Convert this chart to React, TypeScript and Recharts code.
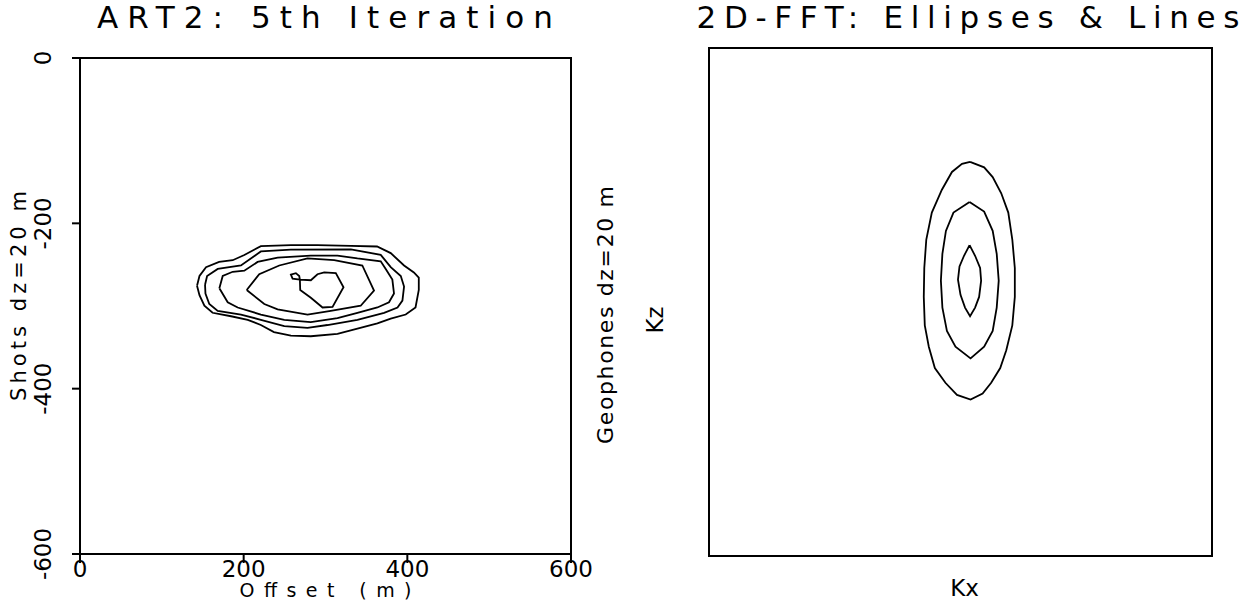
import React from 'react';
import { LineChart, Line, XAxis, YAxis, ReferenceArea, Label } from 'recharts';

// ---------- Left panel: ART2 5th iteration (offset m, depth m) ----------
const offsetTicks = [0, 200, 400, 600];
const shotTicks = [0, -200, -400, -600];

const art2Level1 = [
  { x: 143, y: -275.6 }, { x: 146, y: -263.7 }, { x: 154, y: -253 }, { x: 170, y: -246.7 },
  { x: 186.6, y: -244.6 }, { x: 200.8, y: -238.3 }, { x: 221, y: -227.6 }, { x: 257.7, y: -226.4 },
  { x: 290, y: -226.4 }, { x: 331, y: -227.2 }, { x: 363, y: -228 }, { x: 379.7, y: -236 },
  { x: 396, y: -251 }, { x: 408, y: -259.4 }, { x: 414, y: -265.8 }, { x: 414, y: -280.6 },
  { x: 410, y: -301.8 }, { x: 398, y: -310.3 }, { x: 379.7, y: -315.4 }, { x: 363.4, y: -321 },
  { x: 339, y: -327.3 }, { x: 314.6, y: -333.6 }, { x: 282, y: -336.6 }, { x: 257.7, y: -335.8 },
  { x: 237, y: -331.5 }, { x: 221, y: -323 }, { x: 205, y: -316.7 }, { x: 184.6, y: -312.4 },
  { x: 162, y: -308.2 }, { x: 152, y: -299.7 }, { x: 146, y: -287 }, { x: 143, y: -275.6 },
];

const art2Level2 = [
  { x: 152.8, y: -274.3 }, { x: 155.3, y: -263.7 }, { x: 168.3, y: -255.2 }, { x: 196.7, y: -251 },
  { x: 221, y: -234 }, { x: 257.7, y: -231.9 }, { x: 331, y: -231.5 }, { x: 367.5, y: -238.2 },
  { x: 379.7, y: -253 }, { x: 392, y: -263.7 }, { x: 396, y: -276.4 }, { x: 394, y: -293.4 },
  { x: 388, y: -301.8 }, { x: 371.6, y: -308.2 }, { x: 339, y: -316.7 }, { x: 302.4, y: -323 },
  { x: 278, y: -326.4 }, { x: 249.6, y: -324.3 }, { x: 221, y: -316.7 }, { x: 196.7, y: -310.3 },
  { x: 168.3, y: -306 }, { x: 158, y: -297.6 }, { x: 153.3, y: -284.9 }, { x: 152.8, y: -274.3 },
];

const art2Level3 = [
  { x: 170.3, y: -278.5 }, { x: 174.4, y: -263.7 }, { x: 186.6, y: -258.6 }, { x: 200.8, y: -257.3 },
  { x: 217, y: -246.7 }, { x: 241.5, y: -241.6 }, { x: 282, y: -239 }, { x: 314.6, y: -239 },
  { x: 339, y: -242.5 }, { x: 367.5, y: -245.9 }, { x: 373.6, y: -255.2 }, { x: 381.7, y: -268 },
  { x: 383.7, y: -284.9 }, { x: 377.6, y: -295.5 }, { x: 363.4, y: -301.8 }, { x: 339, y: -308.2 },
  { x: 314.6, y: -314.6 }, { x: 282, y: -319.6 }, { x: 249.6, y: -316.7 }, { x: 221, y: -310.3 },
  { x: 192.7, y: -301.8 }, { x: 180.5, y: -295.5 }, { x: 170.3, y: -278.5 },
];

const art2Level4 = [
  { x: 203.7, y: -280.6 }, { x: 219, y: -261.6 }, { x: 243.5, y: -251 }, { x: 278, y: -242.5 },
  { x: 310.6, y: -244.6 }, { x: 345, y: -251 }, { x: 359.3, y: -281.5 }, { x: 343, y: -299.7 },
  { x: 306.4, y: -306 }, { x: 278, y: -310.3 }, { x: 241.5, y: -304 }, { x: 225.2, y: -297.6 },
  { x: 203.7, y: -280.6 },
];

const art2Level5 = [
  { x: 268.7, y: -268 }, { x: 267.9, y: -263.7 }, { x: 263.8, y: -260.3 }, { x: 257.7, y: -262 },
  { x: 259.8, y: -267 }, { x: 268.7, y: -268 }, { x: 282.1, y: -268.8 }, { x: 290.2, y: -261.6 },
  { x: 298.4, y: -259.4 }, { x: 312.6, y: -260.3 }, { x: 322, y: -277.3 }, { x: 308.6, y: -301 },
  { x: 296.4, y: -301.8 }, { x: 282.1, y: -290 }, { x: 269.1, y: -280.6 }, { x: 268.7, y: -268 },
];

const art2Levels = [art2Level1, art2Level2, art2Level3, art2Level4, art2Level5];

// ---------- Right panel: 2D-FFT (Kx, Kz, arbitrary units 0..100) ----------
const fftOuter = [
  { x: 51.9, y: 77.6 }, { x: 54.7, y: 76.5 }, { x: 56.4, y: 74.6 }, { x: 58.1, y: 71.4 },
  { x: 59.5, y: 67.6 }, { x: 60.3, y: 62.3 }, { x: 60.8, y: 56.7 }, { x: 60.8, y: 51.0 },
  { x: 60.3, y: 45.4 }, { x: 59.1, y: 40.5 }, { x: 57.9, y: 37.0 }, { x: 56.1, y: 34.1 },
  { x: 54.4, y: 32.0 }, { x: 52.0, y: 30.8 }, { x: 49.3, y: 31.7 }, { x: 47.0, y: 34.1 },
  { x: 44.9, y: 37.0 }, { x: 43.7, y: 41.2 }, { x: 42.9, y: 45.4 }, { x: 42.7, y: 51.0 },
  { x: 42.8, y: 56.7 }, { x: 43.2, y: 62.3 }, { x: 44.3, y: 67.6 }, { x: 46.3, y: 72.1 },
  { x: 48.3, y: 75.6 }, { x: 50.3, y: 77.2 }, { x: 51.9, y: 77.6 },
];

const fftMiddle = [
  { x: 51.8, y: 69.7 }, { x: 54.7, y: 67.8 }, { x: 56.4, y: 64.0 }, { x: 57.2, y: 59.5 },
  { x: 57.6, y: 54.2 }, { x: 57.2, y: 48.9 }, { x: 56.4, y: 44.3 }, { x: 54.7, y: 41.2 },
  { x: 52.0, y: 38.9 }, { x: 49.0, y: 41.2 }, { x: 47.3, y: 44.3 }, { x: 46.4, y: 48.9 },
  { x: 46.1, y: 54.2 }, { x: 46.4, y: 59.5 }, { x: 47.1, y: 64.0 }, { x: 48.6, y: 67.6 },
  { x: 51.8, y: 69.7 },
];

const fftInner = [
  { x: 51.8, y: 61.2 }, { x: 52.9, y: 59.1 }, { x: 53.9, y: 56.7 }, { x: 54.1, y: 54.2 },
  { x: 53.7, y: 51.0 }, { x: 52.9, y: 48.9 }, { x: 51.9, y: 47.2 }, { x: 50.9, y: 48.9 },
  { x: 50.0, y: 51.4 }, { x: 49.5, y: 54.4 }, { x: 49.8, y: 57.0 }, { x: 50.7, y: 59.1 },
  { x: 51.8, y: 61.2 },
];

const fftLevels = [fftOuter, fftMiddle, fftInner];

const FONT = '"DejaVu Sans", "Liberation Sans", sans-serif';

function SText(props: any) {
  const { x, y, text, size, len, rotate } = props;
  return (
    <text
      x={x}
      y={y}
      fontSize={size}
      fontFamily={FONT}
      textAnchor="middle"
      dominantBaseline="central"
      fill="#000"
      textLength={len}
      lengthAdjust={len ? 'spacing' : undefined}
      transform={rotate ? `rotate(-90 ${x} ${y})` : undefined}
    >
      {text}
    </text>
  );
}

const XTick = (props: any) => {
  const { x, payload } = props;
  return <SText x={x} y={569} text={String(payload.value)} size={23} />;
};

const YTick = (props: any) => {
  const { y, payload } = props;
  return <SText x={43} y={y} text={String(payload.value)} size={23} rotate />;
};

export default function App() {
  return (
    <div style={{ position: 'absolute', left: 0, top: 0, width: 1249, height: 603, background: '#fff' }}>
      <div style={{ position: 'absolute', left: 0, top: 0 }}>
        <LineChart width={620} height={603} margin={{ top: 58, right: 49, bottom: 0, left: 0 }}>
          <XAxis
            dataKey="x"
            type="number"
            domain={[0, 600]}
            ticks={offsetTicks}
            allowDataOverflow
            height={49}
            tickSize={9}
            tick={XTick}
            axisLine={{ stroke: '#000', strokeWidth: 2 }}
            tickLine={{ stroke: '#000', strokeWidth: 2 }}
          >
            <Label
              content={(p: any) => {
                const vb = p.viewBox || { x: 80, width: 491 };
                return <SText x={vb.x + vb.width / 2} y={590} text="Offset (m)" size={19} len={172} />;
              }}
            />
          </XAxis>
          <YAxis
            dataKey="y"
            type="number"
            domain={[-600, 0]}
            ticks={shotTicks}
            allowDataOverflow
            width={80}
            tickSize={8}
            tick={YTick}
            axisLine={{ stroke: '#000', strokeWidth: 2 }}
            tickLine={{ stroke: '#000', strokeWidth: 2 }}
          >
            <Label
              content={() => <SText x={19} y={296} text="Shots dz=20 m" size={21} len={210} rotate />}
            />
          </YAxis>
          <ReferenceArea x1={0} x2={600} y1={-600} y2={0} fill="none" stroke="#000" strokeWidth={2} />
          {art2Levels.map((d, i) => (
            <Line
              key={i}
              data={d}
              dataKey="y"
              type="linear"
              stroke="#000"
              strokeWidth={1.8}
              dot={false}
              isAnimationActive={false}
            />
          ))}
        </LineChart>
      </div>
      <div style={{ position: 'absolute', left: 580, top: 0 }}>
        <LineChart width={669} height={603} margin={{ top: 48, right: 37, bottom: 0, left: 0 }}>
          <XAxis
            dataKey="x"
            type="number"
            domain={[0, 100]}
            allowDataOverflow
            height={47}
            tick={false}
            tickLine={false}
            axisLine={false}
          >
            <Label
              content={(p: any) => {
                const vb = p.viewBox || { x: 129, width: 503 };
                return <SText x={vb.x + vb.width / 2 + 4} y={588} text="Kx" size={23} />;
              }}
            />
          </XAxis>
          <YAxis
            dataKey="y"
            type="number"
            domain={[0, 100]}
            allowDataOverflow
            width={129}
            tick={false}
            tickLine={false}
            axisLine={false}
          >
            <Label
              content={() => (
                <g>
                  <SText x={25} y={315} text="Geophones dz=20 m" size={22} len={258} rotate />
                  <SText x={75} y={320} text="Kz" size={23} rotate />
                </g>
              )}
            />
          </YAxis>
          <ReferenceArea x1={0} x2={100} y1={0} y2={100} fill="none" stroke="#000" strokeWidth={2} />
          {fftLevels.map((d, i) => (
            <Line
              key={i}
              data={d}
              dataKey="y"
              type="linear"
              stroke="#000"
              strokeWidth={1.8}
              dot={false}
              isAnimationActive={false}
            />
          ))}
        </LineChart>
      </div>
      <svg
        width={1249}
        height={603}
        style={{ position: 'absolute', left: 0, top: 0, pointerEvents: 'none' }}
      >
        <SText x={325} y={17} text="ART2: 5th Iteration" size={31} len={456} />
        <SText x={968} y={17} text="2D-FFT: Ellipses & Lines" size={31} len={543} />
      </svg>
    </div>
  );
}
